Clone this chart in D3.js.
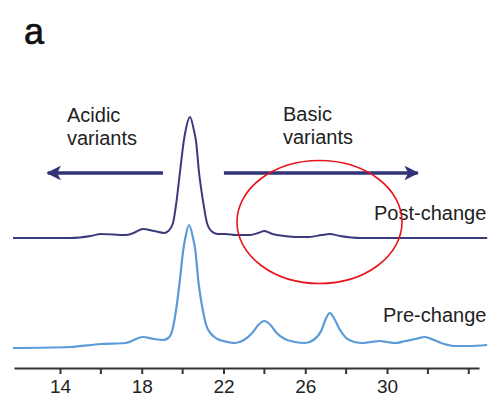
<!DOCTYPE html>
<html>
<head>
<meta charset="utf-8">
<script src="https://cdn.jsdelivr.net/npm/d3@7"></script>
<style>
  body { margin: 0; background: #fff; }
  text { font-family: "Liberation Sans", Arial, sans-serif; }
</style>
</head>
<body>
<div id="chart"></div>
<script>
// retention time (min) of each sample point
var preTime = [11.7, 14.5, 16.0, 17.2, 18.06, 18.6, 19.04, 19.3, 19.5, 19.7, 19.85, 20.03, 20.14, 20.31, 20.5, 20.62, 20.78, 20.96, 21.15, 21.4, 21.7, 22.0, 22.56, 23.0, 23.4, 23.7, 24.0, 24.3, 24.6, 25.0, 25.5, 26.0, 26.4, 26.8, 27.0, 27.2, 27.4, 27.7, 28.0, 28.4, 28.8, 29.2, 29.65, 30.0, 30.4, 30.9, 31.4, 31.85, 32.3, 32.8, 33.3, 34.0, 34.9];
var preSignal = [4, 5, 8, 9, 15, 13, 12, 14, 22, 45, 69, 102, 115, 127, 115, 102, 69, 45, 27, 18, 13, 11, 9, 12, 19, 27, 31, 27, 19, 13, 10, 9, 12, 22, 33, 39, 34, 22, 14, 10, 9, 10, 11, 10, 9, 11, 13, 15, 12, 8, 6, 6, 7];

var postTime = [11.7, 14.5, 15.5, 16.0, 17.2, 17.6, 18.06, 18.6, 19.1, 19.3, 19.53, 19.71, 19.87, 20.05, 20.16, 20.36, 20.55, 20.66, 20.8, 20.99, 21.19, 21.4, 21.7, 22.1, 22.6, 23.3, 23.7, 24.0, 24.4, 25.0, 25.6, 26.2, 26.8, 27.2, 27.7, 28.7, 30.0, 32.0, 34.9];
var postSignal = [4, 4, 6, 8, 7, 9, 13, 11, 9, 11, 19, 42, 70, 100, 113, 125, 112, 100, 70, 42, 19, 11, 8, 8, 7, 7, 9, 11, 8, 6, 5, 5, 7, 8, 6, 4, 4, 4, 4];

var majorTicks = [14, 18, 22, 26, 30];
var minorTicks = [16, 20, 24, 28, 32, 34];

var width = 492, height = 400;
var postOffset = 110; // vertical stacking of the post-change trace

var svg = d3.select("#chart").append("svg")
	.attr("width", width)
	.attr("height", height);

var x = d3.scaleLinear().domain([11.75, 34.5]).range([14, 479]);
var y = d3.scaleLinear().domain([0, 250]).range([352, 102]);

var line = d3.line()
	.x(function(d){ return x(d[0]); })
	.y(function(d){ return y(d[1]); })
	.curve(d3.curveMonotoneX);

var preData = preTime.map(function(t, i){ return [t, preSignal[i]]; });
var postData = postTime.map(function(t, i){ return [t, postSignal[i] + postOffset]; });

svg.append("path")
	.datum(preData)
	.attr("d", line)
	.attr("fill", "none")
	.attr("stroke", "#5b9bd8")
	.attr("stroke-width", 2.2);

svg.append("path")
	.datum(postData)
	.attr("d", line)
	.attr("fill", "none")
	.attr("stroke", "#3b3b7c")
	.attr("stroke-width", 2);

// axis
var axisY = 368;
var gx = svg.append("g")
	.attr("transform", "translate(0," + axisY + ")")
	.call(d3.axisBottom(x).tickValues(majorTicks).tickSize(6).tickSizeOuter(0).tickPadding(6));
gx.select(".domain").attr("stroke", "#333").attr("stroke-width", 2);
gx.selectAll(".tick line").attr("stroke", "#333").attr("stroke-width", 2);
gx.selectAll(".tick text")
	.attr("fill", "#222")
	.style("font-size", "19px")
	.style("font-family", "'Liberation Sans', Arial, sans-serif");

gx.selectAll(".minor")
	.data(minorTicks)
	.enter().append("line")
	.attr("class", "minor")
	.attr("x1", function(d){ return x(d); })
	.attr("x2", function(d){ return x(d); })
	.attr("y1", 0).attr("y2", 6)
	.attr("stroke", "#333").attr("stroke-width", 2);

// arrows
var defs = svg.append("defs");
defs.append("marker")
	.attr("id", "head")
	.attr("viewBox", "0 0 10 10")
	.attr("refX", 9).attr("refY", 5)
	.attr("markerWidth", 4.2).attr("markerHeight", 4.2)
	.attr("orient", "auto")
	.append("path")
	.attr("d", "M0,0L10,5L0,10L2.5,5Z")
	.attr("fill", "#33337a");

var arrowY = 173;
svg.append("line")
	.attr("x1", x(19.04)).attr("x2", x(13.4))
	.attr("y1", arrowY).attr("y2", arrowY)
	.attr("stroke", "#33337a").attr("stroke-width", 3.5)
	.attr("marker-end", "url(#head)");
svg.append("line")
	.attr("x1", x(22.02)).attr("x2", x(31.5))
	.attr("y1", arrowY).attr("y2", arrowY)
	.attr("stroke", "#33337a").attr("stroke-width", 3.5)
	.attr("marker-end", "url(#head)");

function label(tx, ty, lines){
	var t = svg.append("text")
		.attr("x", tx).attr("y", ty)
		.attr("fill", "#222")
		.style("font-size", "20px");
	lines.forEach(function(s, i){
		t.append("tspan").attr("x", tx).attr("dy", i == 0 ? 0 : 23).text(s);
	});
}
label(67, 122, ["Acidic", "variants"]);
label(283, 121, ["Basic", "variants"]);
label(374, 220, ["Post-change"]);
label(383, 322, ["Pre-change"]);

svg.append("text")
	.attr("x", 24).attr("y", 44)
	.attr("fill", "#111")
	.attr("stroke", "#111")
	.attr("stroke-width", 0.7)
	.style("font-size", "36px")
	.text("a");

// highlight ellipse
svg.append("ellipse")
	.attr("cx", 319.5).attr("cy", 222)
	.attr("rx", 82.5).attr("ry", 61.5)
	.attr("fill", "none")
	.attr("stroke", "#e8141b")
	.attr("stroke-width", 1.6);
</script>
</body>
</html>
